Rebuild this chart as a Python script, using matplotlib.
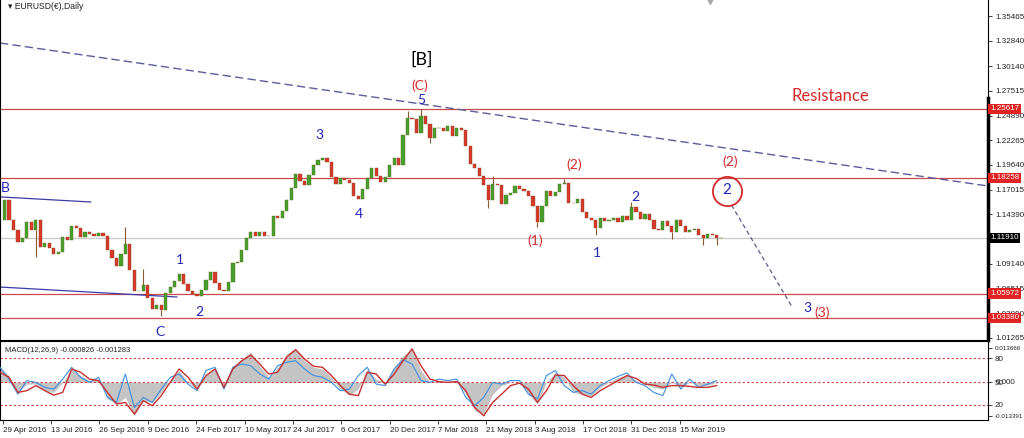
import numpy as np
import matplotlib.pyplot as plt

plt.rcParams['font.family'] = ['Liberation Sans', 'DejaVu Sans']

# EURUSD weekly closes (one value every 5 trading days)
closes = [1.1378, 1.1591, 1.1378, 1.1272, 1.1145, 1.1187, 1.1357, 1.1272, 1.1378, 1.1092,
          1.1134, 1.1081, 1.1017, 1.1038, 1.1198, 1.1166, 1.1315, 1.1293, 1.1198, 1.1251,
          1.1230, 1.1208, 1.1240, 1.1208, 1.1060, 1.0975, 1.0890, 1.1017, 1.1123, 1.0847,
          1.0624, 1.0624, 1.0688, 1.0550, 1.0433, 1.0475, 1.0422, 1.0603, 1.0666, 1.0730,
          1.0805, 1.0698, 1.0624, 1.0592, 1.0571, 1.0635, 1.0741, 1.0826, 1.0709, 1.0635,
          1.0624, 1.0720, 1.0922, 1.0932, 1.1060, 1.1187, 1.1251, 1.1208, 1.1251, 1.1208,
          1.1208, 1.1421, 1.1400, 1.1474, 1.1591, 1.1719, 1.1867, 1.1793, 1.1750, 1.1857,
          1.1963, 1.2016, 1.2037, 1.1995, 1.1836, 1.1761, 1.1825, 1.1804, 1.1772, 1.1634,
          1.1602, 1.1708, 1.1825, 1.1931, 1.1846, 1.1782, 1.1836, 1.1963, 1.2037, 1.1963,
          1.2282, 1.2463, 1.2452, 1.2303, 1.2484, 1.2399, 1.2250, 1.2356, 1.2356, 1.2324,
          1.2378, 1.2271, 1.2356, 1.2335, 1.2165, 1.1974, 1.1931, 1.1846, 1.1750, 1.1591,
          1.1761, 1.1750, 1.1549, 1.1644, 1.1665, 1.1740, 1.1708, 1.1687, 1.1634, 1.1527,
          1.1357, 1.1527, 1.1687, 1.1634, 1.1676, 1.1761, 1.1772, 1.1559, 1.1559, 1.1602,
          1.1464, 1.1400, 1.1378, 1.1293, 1.1400, 1.1368, 1.1378, 1.1400, 1.1357, 1.1421,
          1.1378, 1.1517, 1.1464, 1.1389, 1.1442, 1.1378, 1.1283, 1.1272, 1.1368, 1.1315,
          1.1251, 1.1378, 1.1315, 1.1251, 1.1272, 1.1283, 1.1219, 1.1187, 1.1230, 1.1219,
          1.1187, 1.1191]
# daily extremes that stick out of the weekly bodies
spike_weeks = [8, 28, 32, 36, 91, 94, 96, 109, 110, 120, 126, 133, 141, 150, 157, 160]
spike_prices = [1.0985, 1.1304, 1.0860, 1.0355, 1.2535, 1.2556, 1.2197, 1.1510, 1.1845,
                1.1300, 1.1815, 1.1216, 1.1570, 1.1176, 1.1112, 1.1112]

# MACD(12,26,9) panel, one value every 10 trading days
macd_main = [0.0060, 0.0027, -0.0040, -0.0007, -0.0007, -0.0033, -0.0040, 0.0000, 0.0053, 0.0027,
             0.0007, 0.0013, -0.0066, -0.0086, -0.0060, -0.0133, -0.0073, -0.0080, -0.0040, 0.0007,
             0.0047, 0.0000, -0.0027, 0.0033, 0.0053, -0.0013, 0.0066, 0.0093, 0.0120, 0.0066,
             0.0020, 0.0060, 0.0113, 0.0136, 0.0086, 0.0060, 0.0053, 0.0020, -0.0027, -0.0051,
             -0.0027, 0.0053, 0.0013, 0.0000, 0.0060, 0.0106, 0.0133, 0.0047, 0.0000, 0.0007,
             0.0000, 0.0007, -0.0047, -0.0113, -0.0126, -0.0047, -0.0013, 0.0000, 0.0000, -0.0047,
             -0.0086, 0.0000, 0.0040, 0.0020, -0.0040, -0.0047, -0.0053, -0.0020, 0.0000, 0.0020,
             0.0029, 0.0007, -0.0007, -0.0020, -0.0027, 0.0000, -0.0020, 0.0000, -0.0013, -0.0013,
             0.0000]
macd_signal = [0.0040, 0.0020, -0.0040, -0.0033, -0.0013, -0.0033, -0.0051, -0.0040, 0.0053, 0.0040,
               0.0013, 0.0007, -0.0040, -0.0086, -0.0080, -0.0126, -0.0073, -0.0093, -0.0053, 0.0000,
               0.0053, 0.0020, -0.0027, 0.0027, 0.0053, -0.0020, 0.0053, 0.0086, 0.0109, 0.0073,
               0.0033, 0.0040, 0.0100, 0.0130, 0.0093, 0.0064, 0.0060, 0.0027, -0.0013, -0.0047,
               -0.0053, 0.0040, 0.0033, -0.0007, 0.0033, 0.0086, 0.0133, 0.0066, 0.0013, 0.0003,
               0.0000, 0.0003, -0.0033, -0.0100, -0.0133, -0.0080, -0.0047, -0.0013, -0.0003, -0.0027,
               -0.0080, -0.0033, 0.0029, 0.0027, -0.0013, -0.0047, -0.0060, -0.0033, -0.0013, 0.0007,
               0.0027, 0.0016, -0.0007, -0.0011, -0.0020, -0.0013, -0.0013, -0.0016, -0.0020, -0.0020,
               -0.0013]
osc_line = [0.0060, 0.0013, -0.0047, 0.0007, 0.0000, -0.0020, -0.0027, 0.0013, 0.0060, 0.0020,
            0.0000, 0.0020, -0.0060, -0.0080, 0.0033, -0.0100, -0.0060, -0.0080, -0.0027, 0.0020,
            0.0033, -0.0007, -0.0033, 0.0047, 0.0060, -0.0027, 0.0060, 0.0073, 0.0066, 0.0033,
            0.0013, 0.0066, 0.0080, 0.0086, 0.0053, 0.0027, 0.0020, 0.0000, -0.0033, -0.0027,
            0.0027, 0.0060, -0.0007, -0.0013, 0.0053, 0.0090, 0.0073, 0.0007, 0.0000, 0.0013,
            0.0007, 0.0013, -0.0060, -0.0093, -0.0060, 0.0000, -0.0007, 0.0007, 0.0007, -0.0047,
            -0.0066, 0.0027, 0.0047, -0.0013, -0.0040, -0.0033, -0.0047, -0.0013, 0.0007, 0.0024,
            0.0037, 0.0000, -0.0013, -0.0040, -0.0053, 0.0033, -0.0027, 0.0013, -0.0020, -0.0007,
            0.0007]

date_labels = ['29 Apr 2016', '13 Jul 2016', '26 Sep 2016', '9 Dec 2016', '24 Feb 2017',
               '10 May 2017', '24 Jul 2017', '6 Oct 2017', '20 Dec 2017', '7 Mar 2018',
               '21 May 2018', '3 Aug 2018', '17 Oct 2018', '31 Dec 2018', '15 Mar 2019']
date_bars = [3, 57, 111, 165, 219, 273, 327, 381, 435, 489, 543, 597, 651, 705, 759]
price_ticks = [1.35465, 1.32840, 1.30140, 1.27515, 1.24890, 1.22265, 1.19640, 1.17015,
               1.14390, 1.09140, 1.06515, 1.03890, 1.01265]
levels = [1.25617, 1.18258, 1.05972, 1.03380]
last_price = 1.11910
macd_ticks = [0.013666, 0.0095, 0.0, -0.0090, -0.013391]
macd_tick_labels = ['0.013666', '80', '50', '20', '-0.013391']

RED = '#d42a2a'
BLUE = '#2424b4'
LINE_RED = '#c84a4a'
AXFS = 5.8

fig = plt.figure(figsize=(10.24, 4.38), dpi=100)
ax = fig.add_axes([0, 1 - 340 / 438, 988 / 1024, 340 / 438])
axm = fig.add_axes([0, 18 / 438, 988 / 1024, 79 / 438])

# --- candles
closes = np.array(closes)
xw = np.arange(len(closes)) * 5
opens = np.r_[closes[0], closes[:-1]]
up = closes >= opens
lo = np.minimum(opens, closes)
hi = np.maximum(opens, closes)
h = np.maximum(hi - lo, 0.0005)
ax.bar(xw[up], h[up], bottom=lo[up], width=3.6, color='#46a02c', edgecolor='#5f6a25', linewidth=0.3, zorder=3)
ax.bar(xw[~up], h[~up], bottom=lo[~up], width=3.6, color='#d8382a', edgecolor='#8a4a25', linewidth=0.3, zorder=3)
sw = np.array(spike_weeks)
sp = np.array(spike_prices)
ax.vlines(sw * 5, np.where(sp > hi[sw], hi[sw], sp), np.where(sp > hi[sw], sp, lo[sw]),
          color='#8a5a30', linewidth=0.8, zorder=2)

ax.set_xlim(0, 1103)
ax.set_ylim(1.0103, 1.3717)

# horizontal levels
for lv in levels:
    ax.axhline(lv, color=LINE_RED, linewidth=0.9, zorder=1)
ax.axhline(last_price, color='#c8c8c8', linewidth=0.9, zorder=1)

# trend lines
ax.plot([0, 1103], [1.3260, 1.1740], color='#5c5c9c', linewidth=1, dashes=(6, 3), zorder=2)
ax.plot([1.9, 101.2], [1.1623, 1.1570], color='#3c3ca8', linewidth=0.9, zorder=2)
ax.plot([0, 197.5], [1.0666, 1.0560], color='#3c3ca8', linewidth=0.9, zorder=2)
ax.plot([816.6, 885], [1.1538, 1.0443], color='#5c5c8c', linewidth=0.9, dashes=(3.5, 2.5), zorder=2)
ax.plot([811.7], [1.1690], 'o', ms=21, mfc='none', mec=RED, mew=1.3, zorder=4)

# wave labels
waves = [('B', 6.4, 1.1719, BLUE, 10), ('C', 178.6, 1.0191, BLUE, 10), ('1', 200.9, 1.0953, BLUE, 10),
         ('2', 222.1, 1.0402, BLUE, 10), ('3', 357.1, 1.2282, BLUE, 10), ('4', 401.0, 1.1442, BLUE, 10),
         ('5', 470.6, 1.2654, BLUE, 10), ('(C)', 468.8, 1.2803, RED, 10), ('[B]', 470.6, 1.3079, 'black', 13),
         ('(1)', 597.1, 1.1159, RED, 10), ('(2)', 640.6, 1.1968, RED, 10), ('1', 666.0, 1.1031, BLUE, 10),
         ('2', 709.8, 1.1626, BLUE, 10), ('(2)', 815.5, 1.1998, RED, 10), ('2', 811.7, 1.1695, BLUE, 11),
         ('3', 901.5, 1.0446, BLUE, 10), ('(3)', 918.2, 1.0393, RED, 10), ('Resistance', 927.1, 1.2700, RED, 12)]
for s, xx, yy, c, fs in waves:
    ax.text(xx, yy, s, color=c, fontsize=fs, ha='center', va='center', family='Lato', zorder=5)

# price axis on the right
ax.yaxis.tick_right()
ax.set_yticks(price_ticks)
ax.set_yticklabels(['%.5f' % p for p in price_ticks])
ax.tick_params(axis='y', labelsize=AXFS, length=3, width=0.6, pad=2, colors='#222222')
ax.set_xticks([])
for sp_ in ax.spines.values():
    sp_.set_color('black')
    sp_.set_linewidth(0.8)
ax.spines['top'].set_visible(False)
ax.plot([1, 1], [0, 0.712], transform=ax.transAxes, color='black', linewidth=2.5, clip_on=False, zorder=6)

for lv in levels:
    ax.annotate('%.5f' % lv, xy=(1.002, lv), xycoords=('axes fraction', 'data'), fontsize=AXFS,
                color='white', va='center', ha='left', annotation_clip=False,
                bbox=dict(boxstyle='square,pad=0.2', fc='#e02222', ec='none'), zorder=7)
ax.annotate('%.5f' % last_price, xy=(1.002, last_price), xycoords=('axes fraction', 'data'), fontsize=AXFS,
            color='white', va='center', ha='left', annotation_clip=False,
            bbox=dict(boxstyle='square,pad=0.2', fc='black', ec='none'), zorder=7)

ax.text(0.008, 0.982, '\u25be EURUSD(\u20ac),Daily', transform=ax.transAxes, fontsize=6.2,
        color='#222222', va='center', ha='left')
ax.plot([0.7186], [0.996], 'v', color='#a8a8a8', ms=5, transform=ax.transAxes, clip_on=False)

# --- MACD panel
mx = np.arange(len(macd_main)) * 10
axm.fill_between(mx, 0, macd_main, color='#c4c4c4', linewidth=0, zorder=1)
axm.plot(mx, osc_line, color='#3d8fe0', linewidth=0.8, zorder=3)
axm.plot(mx, macd_signal, color='#c83030', linewidth=1.0, zorder=4)
for lv in [0.0095, 0.0, -0.0090]:
    axm.axhline(lv, color='#d04040', linewidth=0.8, linestyle=(0, (2, 2)), zorder=2)
axm.set_xlim(0, 1103)
axm.set_ylim(-0.01498, 0.01645)
axm.yaxis.tick_right()
axm.set_yticks(macd_ticks)
axm.set_yticklabels(macd_tick_labels)
axm.tick_params(axis='y', labelsize=AXFS, length=3, width=0.6, pad=2, colors='#222222')
for lab in axm.get_yticklabels():
    if len(lab.get_text()) > 3:
        lab.set_fontsize(4.5)
axm.text(1.0075, 0.0, '0.000', transform=axm.get_yaxis_transform(), fontsize=AXFS,
         color='#222222', va='center', ha='left', clip_on=False)
axm.set_xticks(date_bars)
axm.set_xticklabels(date_labels, ha='left')
axm.tick_params(axis='x', labelsize=AXFS, length=3, width=0.6, pad=2, colors='#222222')
for sp_ in axm.spines.values():
    sp_.set_color('black')
    sp_.set_linewidth(0.8)
axm.text(0.005, 0.88, 'MACD(12,26,9) -0.000826 -0.001283', transform=axm.transAxes,
         fontsize=5.5, color='#222222', va='center', ha='left')

fig.savefig('out.png', dpi=100, facecolor='white')
